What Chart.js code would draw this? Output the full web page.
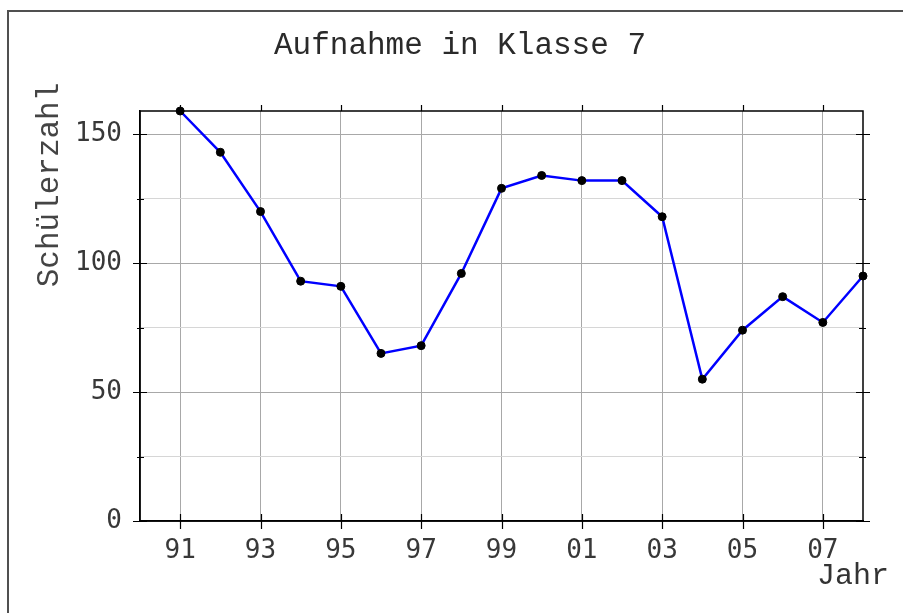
<!DOCTYPE html>
<html>
<head>
<meta charset="utf-8">
<script src="https://cdn.jsdelivr.net/npm/chart.js@4.4.0/dist/chart.umd.min.js"></script>
<style>
  html, body { margin: 0; padding: 0; background: #fff; }
  #wrap { position: relative; width: 903px; height: 613px; }
</style>
</head>
<body>
<div id="wrap"><canvas id="myChart"></canvas></div>
<script>
// jahre (91 = 1991, 108 = 2008) und schuelerzahlen
var years = [91, 92, 93, 94, 95, 96, 97, 98, 99, 100, 101, 102, 103, 104, 105, 106, 107, 108];
var schueler = [159, 143, 120, 93, 91, 65, 68, 96, 129, 134, 132, 132, 118, 55, 74, 87, 77, 95];

// tick positions
var yearTicks = [91, 93, 95, 97, 99, 101, 103, 105, 107];
var countTicks = [0, 25, 50, 75, 100, 125, 150];
var labeledCounts = [0, 50, 100, 150];

var chartTitle = "Aufnahme in Klasse 7";
var yTitle = "Schülerzahl";
var xTitle = "Jahr";

var points = [];
for (var i = 0; i < years.length; i++) {
  points.push({ x: years[i], y: schueler[i] });
}

// frame, extra ticks and texts
var framePlugin = {
  id: "frame",
  beforeDraw: function (chart) {
    var ctx = chart.ctx;
    ctx.save();
    ctx.strokeStyle = "#505050";
    ctx.lineWidth = 2;
    ctx.beginPath();
    ctx.moveTo(8, chart.height);
    ctx.lineTo(8, 11);
    ctx.lineTo(chart.width, 11);
    ctx.stroke();
    ctx.restore();
  },
  afterDraw: function (chart) {
    var ctx = chart.ctx;
    var a = chart.chartArea;
    var xs = chart.scales.x;
    var ys = chart.scales.y;
    ctx.save();
    ctx.strokeStyle = "#000";
    ctx.lineWidth = 1.5;
    ctx.strokeRect(a.left, a.top, a.right - a.left, a.bottom - a.top);

    ctx.lineWidth = 1.2;
    ctx.beginPath();
    yearTicks.forEach(function (v) {
      var px = Math.round(xs.getPixelForValue(v)) + 0.5;
      ctx.moveTo(px, a.top - 6);
      ctx.lineTo(px, a.top);
      ctx.moveTo(px, a.bottom - 7);
      ctx.lineTo(px, a.bottom + 8);
    });
    countTicks.forEach(function (v) {
      var py = Math.round(ys.getPixelForValue(v)) + 0.5;
      var big = v % 50 === 0;
      var lo = big ? 7 : 3;
      var hi = big ? 7 : 4;
      ctx.moveTo(a.left - lo, py);
      ctx.lineTo(a.left + hi, py);
      ctx.moveTo(a.right - hi, py);
      ctx.lineTo(a.right + lo, py);
    });
    ctx.stroke();

    // title
    ctx.fillStyle = "#2a2a2a";
    ctx.font = '31px "Liberation Mono"';
    ctx.textAlign = "center";
    ctx.textBaseline = "alphabetic";
    ctx.fillText(chartTitle, 460, 54);

    // x title
    ctx.fillStyle = "#333";
    ctx.font = '30px "Liberation Mono"';
    ctx.textAlign = "left";
    ctx.fillText(xTitle, 817, 584);

    // y title
    ctx.fillStyle = "#444";
    ctx.font = '31px "Liberation Mono"';
    ctx.translate(58, 185);
    ctx.rotate(-Math.PI / 2);
    ctx.textAlign = "center";
    ctx.fillText(yTitle, 0, 0);
    ctx.restore();
  }
};

new Chart(document.getElementById("myChart"), {
  type: "line",
  data: {
    datasets: [{
      data: points,
      borderColor: "#0000ff",
      borderWidth: 2.5,
      pointRadius: 4,
      pointBackgroundColor: "#000",
      pointBorderColor: "#000",
      pointBorderWidth: 1,
      tension: 0,
      clip: false
    }]
  },
  options: {
    responsive: true,
    maintainAspectRatio: false,
    animation: false,
    layout: { padding: { left: 0, top: 111, right: 40, bottom: 0 } },
    plugins: {
      legend: { display: false },
      tooltip: { enabled: false },
      title: { display: false }
    },
    scales: {
      x: {
        type: "linear",
        min: 90,
        max: 108,
        afterBuildTicks: function (s) {
          s.ticks = yearTicks.map(function (v) { return { value: v }; });
        },
        afterFit: function (s) { s.height = 92; },
        ticks: {
          autoSkip: false,
          maxRotation: 0,
          padding: 15,
          color: "#383838",
          font: { family: "DejaVu Sans Mono", size: 26 },
          callback: function (v) { return String(v % 100).padStart(2, "0"); }
        },
        grid: { color: "#a8a8a8", lineWidth: 1, drawTicks: false },
        border: { display: true, color: "#000", width: 1.5 }
      },
      y: {
        min: 0,
        max: 159,
        afterBuildTicks: function (s) {
          s.ticks = countTicks.map(function (v) { return { value: v }; });
        },
        afterFit: function (s) { s.width = 140; },
        ticks: {
          autoSkip: false,
          padding: 18,
          color: "#383838",
          font: { family: "DejaVu Sans Mono", size: 26 },
          callback: function (v) { return labeledCounts.indexOf(v) >= 0 ? String(v) : ""; }
        },
        grid: {
          color: function (c) { return c.tick && c.tick.value % 50 === 0 ? "#a8a8a8" : "#d6d6d6"; },
          lineWidth: 1,
          drawTicks: false
        },
        border: { display: true, color: "#000", width: 1.5 }
      }
    }
  },
  plugins: [framePlugin]
});
</script>
</body>
</html>
